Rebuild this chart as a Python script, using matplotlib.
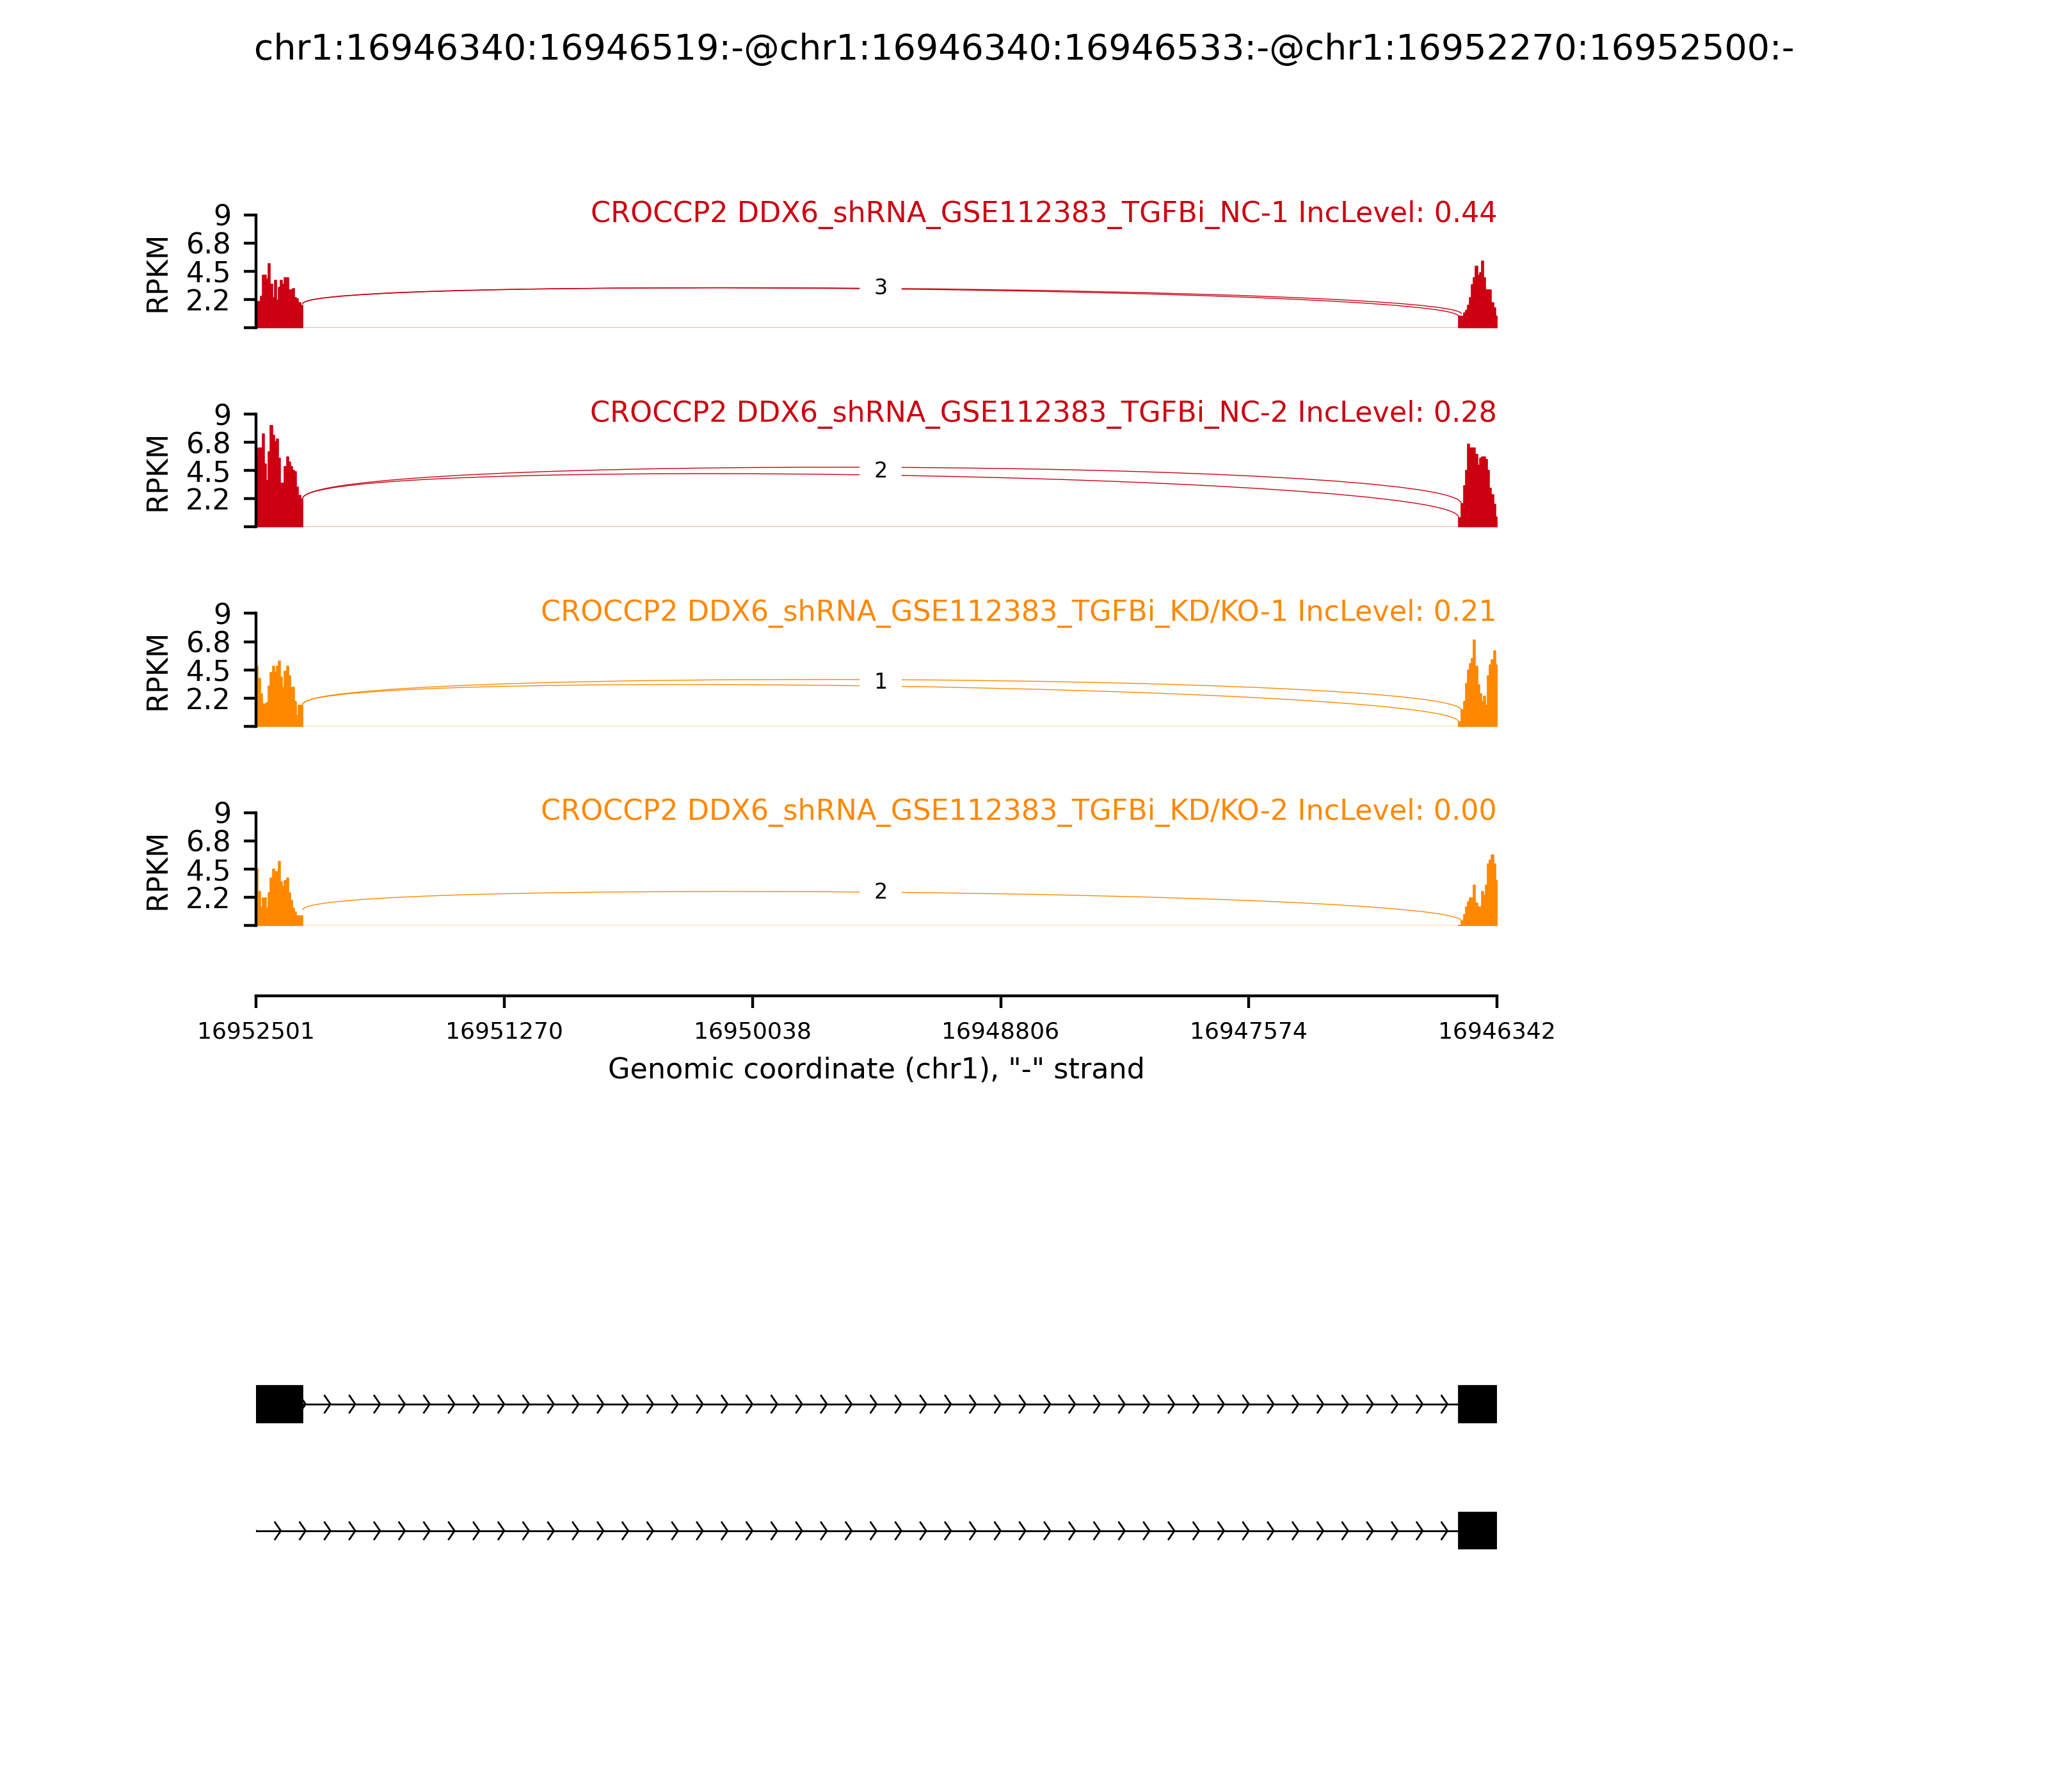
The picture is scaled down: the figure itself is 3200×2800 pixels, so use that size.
import numpy as np
import matplotlib
matplotlib.use('Agg')
import matplotlib.pyplot as plt
from matplotlib.path import Path
from matplotlib.patches import PathPatch, Rectangle

title = 'chr1:16946340:16946519:-@chr1:16946340:16946533:-@chr1:16952270:16952500:-'

samples = ['CROCCP2 DDX6_shRNA_GSE112383_TGFBi_NC-1 IncLevel: 0.44',
           'CROCCP2 DDX6_shRNA_GSE112383_TGFBi_NC-2 IncLevel: 0.28',
           'CROCCP2 DDX6_shRNA_GSE112383_TGFBi_KD/KO-1 IncLevel: 0.21',
           'CROCCP2 DDX6_shRNA_GSE112383_TGFBi_KD/KO-2 IncLevel: 0.00']
colors = ['#CC0011', '#CC0011', '#FF8800', '#FF8800']

x_start = 16952501
x_end = 16946342
left_exon = [16952500, 16952270]
right_exon = [16946533, 16946519, 16946340]

# coverage (RPKM), left exon in 10bp bins
cov_left = [
    [2.1, 2.1, 2.5, 4.2, 4.2, 3.9, 5.1, 3.5, 2.4, 3.8, 2.2, 3.2, 3.8, 3.5, 4.0, 4.0, 3.0, 3.0, 3.1, 2.4, 2.3, 2.0, 1.8],
    [5.6, 6.3, 6.3, 7.4, 5.0, 3.7, 6.0, 8.1, 7.3, 6.8, 7.0, 5.5, 3.5, 3.5, 4.8, 5.6, 5.2, 4.8, 4.5, 4.4, 3.2, 2.5, 2.2],
    [4.8, 3.8, 2.6, 1.8, 1.8, 1.9, 3.2, 4.3, 4.8, 4.3, 4.8, 5.2, 3.9, 3.1, 4.4, 4.8, 4.0, 3.1, 3.1, 2.0, 0.85, 1.7, 1.7],
    [4.5, 2.7, 1.5, 2.2, 2.2, 1.4, 2.6, 3.8, 4.5, 4.3, 4.3, 5.1, 3.5, 3.1, 3.6, 3.8, 2.6, 2.0, 1.4, 1.1, 0.8, 0.8, 0.8],
]
# right exon: first value = 16946533-16946519, then 18 bins
cov_right = [
    [0.9, 0.9, 1.2, 1.4, 1.8, 2.4, 3.4, 4.0, 4.9, 4.2, 4.4, 5.3, 4.0, 3.0, 3.0, 3.0, 2.0, 1.6, 0.9],
    [0.75, 1.85, 3.3, 4.5, 6.6, 6.3, 6.3, 6.3, 5.8, 4.9, 5.5, 5.6, 5.6, 5.4, 4.5, 3.1, 2.6, 1.8, 0.8],
    [0.35, 1.3, 2.0, 3.4, 4.5, 5.0, 5.4, 6.9, 4.8, 3.3, 2.6, 2.0, 2.4, 1.7, 4.0, 4.9, 5.3, 6.0, 4.9],
    [0.0, 0.35, 0.9, 1.5, 1.9, 2.2, 2.2, 3.2, 1.8, 1.5, 1.5, 2.7, 2.4, 3.2, 4.9, 5.2, 5.6, 4.9, 3.6],
]

# junctions: (right splice site, y at right end, y at arc top)
arc_left_y = [1.9, 2.25, 1.73, 1.24]
arcs = [
    [(16946519, 1.1, 3.14), (16946533, 0.9, 3.1)],
    [(16946519, 1.85, 4.76), (16946533, 0.76, 4.14)],
    [(16946519, 1.27, 3.72), (16946533, 0.34, 3.21)],
    [(16946519, 0.35, 2.66)],
]
jxn_counts = [3, 2, 1, 2]

yticks = [0, 2.25, 4.5, 6.75, 9]
ytick_labels = ['', '2.2', '4.5', '6.8', '9']
xtick_labels = ['16952501', '16951270', '16950038', '16948806', '16947574', '16946342']

isoforms = [[(16952500, 16952270), (16946533, 16946340)],
            [(16946533, 16946340)]]
intron_lines = [(16952270, 16946533), (16952501, 16946533)]


fig = plt.figure(figsize=(8, 7), dpi=400)
fig.text(0.5, 0.972, title, ha='center', va='center', fontsize=10)

for i in range(4):
    ax = fig.add_axes([0.125, 0.8171 - i * 0.1112, 0.606, 0.063])
    col = colors[i]

    xl = np.linspace(left_exon[0], left_exon[1], len(cov_left[i]) + 1)
    yl = cov_left[i] + [cov_left[i][-1]]
    ax.fill_between(xl, yl, step='post', fc=col, ec=col, lw=0.3)
    xr = np.concatenate([[right_exon[0]], np.linspace(right_exon[1], right_exon[2], len(cov_right[i]))])
    yr = cov_right[i] + [cov_right[i][-1]]
    ax.fill_between(xr, yr, step='post', fc=col, ec=col, lw=0.3)
    ax.plot([x_start, x_end], [0, 0], color=col, lw=0.3, alpha=0.4)

    mids = []
    for rss, yR, top in arcs[i]:
        yL = arc_left_y[i]
        h = (top - 0.5 * (yL + yR)) / 0.75
        verts = [(left_exon[1], yL), (left_exon[1], yL + h), (rss, yR + h), (rss, yR)]
        codes = [Path.MOVETO, Path.CURVE4, Path.CURVE4, Path.CURVE4]
        ax.add_patch(PathPatch(Path(verts, codes), fc='none', ec=col, lw=0.25))
        mids.append(top)
    xm = (left_exon[1] + right_exon[0]) / 2
    ax.text(xm, np.mean(mids), str(jxn_counts[i]), fontsize=6, ha='center', va='center',
            bbox=dict(fc='w', ec='w', pad=3.5))

    ax.text(x_end, 9, samples[i], fontsize=8, color=col, ha='right', va='center')

    ax.set_xlim(x_start, x_end)
    ax.set_ylim(0, 9)
    ax.set_yticks(yticks)
    ax.set_yticklabels(ytick_labels, fontsize=8)
    ax.set_ylabel('RPKM', fontsize=8)
    ax.spines['top'].set_visible(False)
    ax.spines['right'].set_visible(False)
    if i < 3:
        ax.spines['bottom'].set_visible(False)
        ax.set_xticks([])
    else:
        ax.spines['bottom'].set_position(('outward', 19.8))
        ax.set_xticks(np.linspace(x_start, x_end, 6))
        ax.set_xticklabels(xtick_labels, fontsize=6.5)
        ax.set_xlabel('Genomic coordinate (chr1), "-" strand', fontsize=8)

# gene tracks
gx = fig.add_axes([0.125, 0.0889, 0.606, 0.1822])
gx.set_xlim(x_start, x_end)
gx.set_ylim(0, 1)
gx.axis('off')
track_y = [0.70, 0.312]
half = 0.056
step = (x_start - x_end) / 50
spread = 29
for k in range(2):
    y0 = track_y[k]
    gx.plot(intron_lines[k], [y0, y0], color='k', lw=0.5)
    for j in range(50):
        tip = x_start - j * step
        gx.plot([tip + spread, tip, tip + spread], [y0 - 0.026, y0, y0 + 0.026], color='k', lw=0.5)
    for a, b in isoforms[k]:
        gx.add_patch(Rectangle((b, y0 - half), a - b, 2 * half, fc='k', ec='k', lw=0.3, zorder=5))

fig.savefig('out.png', dpi=400)
